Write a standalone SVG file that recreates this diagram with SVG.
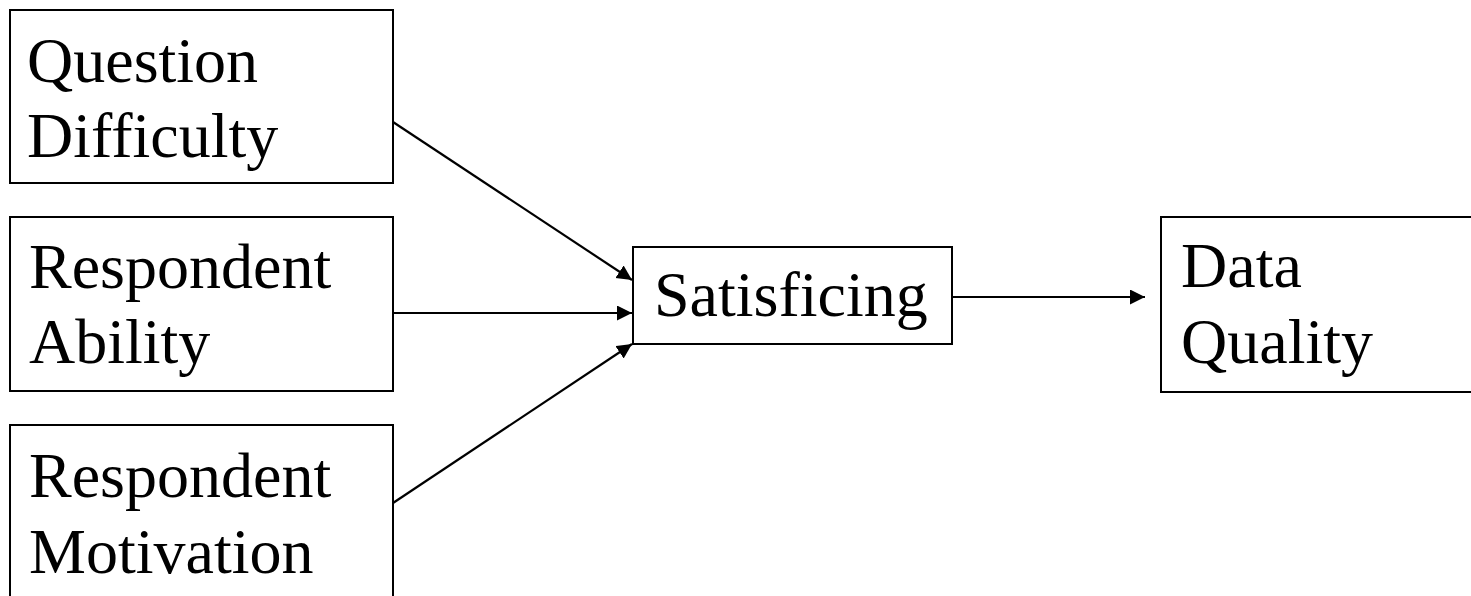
<svg xmlns="http://www.w3.org/2000/svg" width="1471" height="596" viewBox="0 0 1471 596">
  <style>
    .box { fill: #ffffff; stroke: #000000; stroke-width: 2; }
    .label { font-family: "Liberation Serif", "Times New Roman", serif; font-size: 64px; fill: #000000; }
    .edge { fill: none; stroke: #000000; stroke-width: 2.2; marker-end: url(#arrow); }
  </style>
  <defs>
    <marker id="arrow" markerUnits="userSpaceOnUse" markerWidth="16" markerHeight="16" viewBox="0 0 16 16" refX="15" refY="7.5" orient="auto">
      <path d="M0,0 L15,7.5 L0,15 Z" fill="#000000"/>
    </marker>
  </defs>
  <rect width="1471" height="596" fill="#ffffff"/>

  <g id="question-difficulty">
    <rect class="box" x="10" y="10" width="383" height="173"/>
    <text class="label" x="27" y="82">Question</text>
    <text class="label" x="27" y="157">Difficulty</text>
  </g>

  <g id="respondent-ability">
    <rect class="box" x="10" y="217" width="383" height="174"/>
    <text class="label" x="29" y="288">Respondent</text>
    <text class="label" x="29" y="363">Ability</text>
  </g>

  <g id="respondent-motivation">
    <rect class="box" x="10" y="425" width="383" height="190"/>
    <text class="label" x="29" y="497">Respondent</text>
    <text class="label" x="29" y="573">Motivation</text>
  </g>

  <g id="satisficing">
    <rect class="box" x="633" y="247" width="319" height="97"/>
    <text class="label" x="654" y="316">Satisficing</text>
  </g>

  <g id="data-quality">
    <rect class="box" x="1161" y="217" width="330" height="175"/>
    <text class="label" x="1181" y="287">Data</text>
    <text class="label" x="1181" y="363">Quality</text>
  </g>

  <g id="connectors">
    <line class="edge" x1="393" y1="122" x2="632" y2="280"/>
    <line class="edge" x1="393" y1="313" x2="632" y2="313"/>
    <line class="edge" x1="393" y1="503" x2="632" y2="344"/>
    <line class="edge" x1="953" y1="297" x2="1145" y2="297"/>
  </g>
</svg>
